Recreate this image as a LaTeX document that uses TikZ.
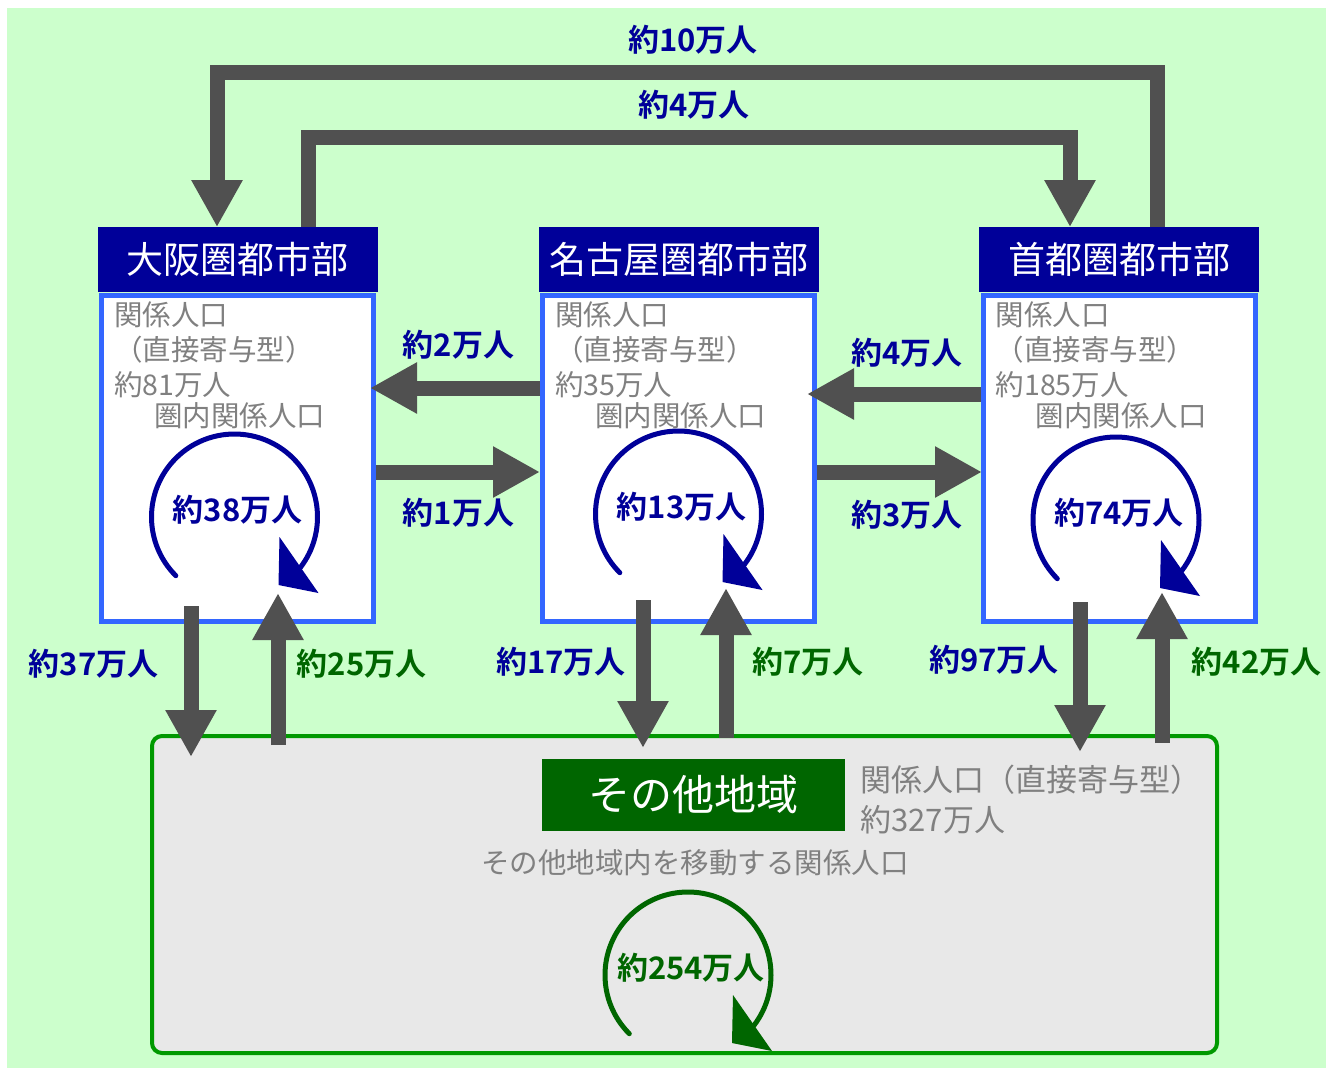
\documentclass[tikz,border=0pt]{standalone}
\usepackage{fontspec}
\setmainfont{Noto Sans CJK JP}[BoldFont={Noto Sans CJK JP Bold}]
\usepackage{tikz}
\usetikzlibrary{arrows.meta, calc, positioning}

\definecolor{bgGreen}{HTML}{CCFFCC}
\definecolor{headBlue}{HTML}{000099}
\definecolor{boxBlue}{HTML}{3366FF}
\definecolor{flowGray}{HTML}{505050}
\definecolor{textGray}{HTML}{808080}
\definecolor{otherGreen}{HTML}{006600}
\definecolor{frameGreen}{HTML}{009900}
\definecolor{otherFill}{HTML}{E8E8E8}

\tikzset{
    cityBody/.style={draw=boxBlue, line width=5pt, fill=white,
        minimum width=272pt, minimum height=326pt, inner sep=0pt},
    cityHead/.style={fill=headBlue, text=white, minimum width=280pt,
        minimum height=65pt, inner sep=0pt, font=\fontsize{37}{40}\selectfont},
    otherBox/.style={draw=frameGreen, line width=4pt, fill=otherFill,
        rounded corners=10pt, minimum width=1065pt, minimum height=317pt},
    otherHead/.style={fill=otherGreen, text=white, minimum width=303pt,
        minimum height=72pt, inner sep=0pt, font=\fontsize{42}{46}\selectfont},
    info/.style={text=textGray, inner sep=0pt, anchor=west,
        font=\fontsize{28.5}{32}\selectfont},
    flow/.style={draw=flowGray, line width=15pt,
        -{Triangle[length=47pt, width=48pt]}},
    count/.style={inner sep=0pt, font=\bfseries\fontsize{31}{34}\selectfont}
}

% name, centre, colour, label
\newcommand{\cycleArrow}[4]{%
    \coordinate (#1) at #2;
    \draw[#3, line width=5pt, line cap=round]
        ($(#1)+(135:83)$) arc[start angle=135, end angle=400, radius=83];
    \fill[#3] ($(#1)+(45,20)$) -- ($(#1)+(44,68)$) -- ($(#1)+(84,76)$) -- cycle;
    \node[count, text=#3] (#1Label) at ($(#1)+(3,-7)$) {#4};
}

\begin{document}
\begin{tikzpicture}[x=1pt, y=-1pt]
    \useasboundingbox (0,0) rectangle (1326,1069);
    \fill[white] (0,0) rectangle (1326,1069);
    \fill[bgGreen] (7,8) rectangle (1326,1068);

    % other region
    \node[otherBox] (other) at (684.5,894.5) {};
    \node[otherHead] (otherHead) at (693.5,795) {その他地域};
    \node[info, font=\fontsize{31}{34}\selectfont] (otherKind)
        at ([xshift=15pt, yshift=15pt]otherHead.east) {関係人口（直接寄与型）};
    \node[info, font=\fontsize{31}{34}\selectfont] (otherTotal)
        at ([xshift=15pt, yshift=-25pt]otherHead.east) {約327万人};
    \node[info, anchor=center] (otherInner) at (695,863) {その他地域内を移動する関係人口};

    % city areas
    \node[cityBody] (osaka) at (237.5,458) {};
    \node[cityBody] (nagoya) at (678.5,458) {};
    \node[cityBody] (tokyo) at (1119,458) {};
    \node[cityHead, above=0pt of osaka] (osakaHead) {大阪圏都市部};
    \node[cityHead, above=0pt of nagoya] (nagoyaHead) {名古屋圏都市部};
    \node[cityHead, above=0pt of tokyo] (tokyoHead) {首都圏都市部};

    \foreach \city/\amount in {osaka/81, nagoya/35, tokyo/185} {
        \node[info] (\city Kind) at ([xshift=15pt, yshift=-22pt]\city.north west) {関係人口};
        \node[info] (\city Type) at ([xshift=15pt, yshift=-57pt]\city.north west) {（直接寄与型）};
        \node[info] (\city Total) at ([xshift=15pt, yshift=-92pt]\city.north west) {約\amount 万人};
        \node[info] (\city Inner) at ([xshift=55pt, yshift=-123pt]\city.north west) {圏内関係人口};
    }

    % flows inside each area
    \cycleArrow{osakaLoop}{(234.5,517)}{headBlue}{約38万人}
    \cycleArrow{nagoyaLoop}{(678.5,514)}{headBlue}{約13万人}
    \cycleArrow{tokyoLoop}{(1116,520)}{headBlue}{約74万人}
    \cycleArrow{otherLoop}{(688,975)}{otherGreen}{約254万人}

    % long flows over the top
    \draw[flow] ([xshift=38pt]tokyoHead.north) -- ++(0,-154.5)
        -| ([xshift=-20.5pt]osakaHead.north);
    \draw[flow] ([xshift=70.5pt]osakaHead.north) -- ++(0,-89.5)
        -| ([xshift=-49pt]tokyoHead.north);
    \node[count, text=headBlue] (topLabel) at (693,40) {約10万人};
    \node[count, text=headBlue] (midLabel) at (694,105) {約4万人};

    % flows between neighbours
    \draw[flow] ([yshift=70pt]nagoya.west) -- ([xshift=-6pt, yshift=70pt]osaka.east);
    \draw[flow] ([yshift=-14pt]osaka.east) -- ([yshift=-14pt]nagoya.west);
    \draw[flow] ([yshift=64pt]tokyo.west) -- ([xshift=-10pt, yshift=64pt]nagoya.east);
    \draw[flow] ([yshift=-14pt]nagoya.east) -- ([xshift=1.5pt, yshift=-14pt]tokyo.west);
    \node[count, text=headBlue] (nagoyaOsakaLabel) at (458.5,345) {約2万人};
    \node[count, text=headBlue] (osakaNagoyaLabel) at (458.5,513) {約1万人};
    \node[count, text=headBlue] (tokyoNagoyaLabel) at (907,353) {約4万人};
    \node[count, text=headBlue] (nagoyaTokyoLabel) at (907,515) {約3万人};

    % flows to and from the other region
    \draw[flow] ([xshift=-46.5pt, yshift=17.5pt]osaka.south)
        -- ([xshift=-46.5pt, yshift=-23pt]osaka.south |- other.north);
    \draw[flow] ([xshift=40.5pt, yshift=-11pt]osaka.south |- other.north)
        -- ([xshift=40.5pt, yshift=30.5pt]osaka.south);
    \draw[flow] ([xshift=-35.5pt, yshift=23.5pt]nagoya.south)
        -- ([xshift=-35.5pt, yshift=-14pt]nagoya.south |- other.north);
    \draw[flow] ([xshift=47.5pt, yshift=-4pt]nagoya.south |- other.north)
        -- ([xshift=47.5pt, yshift=35.5pt]nagoya.south);
    \draw[flow] ([xshift=-39pt, yshift=21.5pt]tokyo.south)
        -- ([xshift=-39pt, yshift=-18pt]tokyo.south |- other.north);
    \draw[flow] ([xshift=43pt, yshift=-9pt]tokyo.south |- other.north)
        -- ([xshift=43pt, yshift=31.5pt]tokyo.south);
    \node[count, text=headBlue] (osakaOutLabel) at (93.5,664) {約37万人};
    \node[count, text=otherGreen] (osakaInLabel) at (361.5,664) {約25万人};
    \node[count, text=headBlue] (nagoyaOutLabel) at (561,662) {約17万人};
    \node[count, text=otherGreen] (nagoyaInLabel) at (808,662) {約7万人};
    \node[count, text=headBlue] (tokyoOutLabel) at (994,660) {約97万人};
    \node[count, text=otherGreen] (tokyoInLabel) at (1256.5,662) {約42万人};
\end{tikzpicture}
\end{document}
